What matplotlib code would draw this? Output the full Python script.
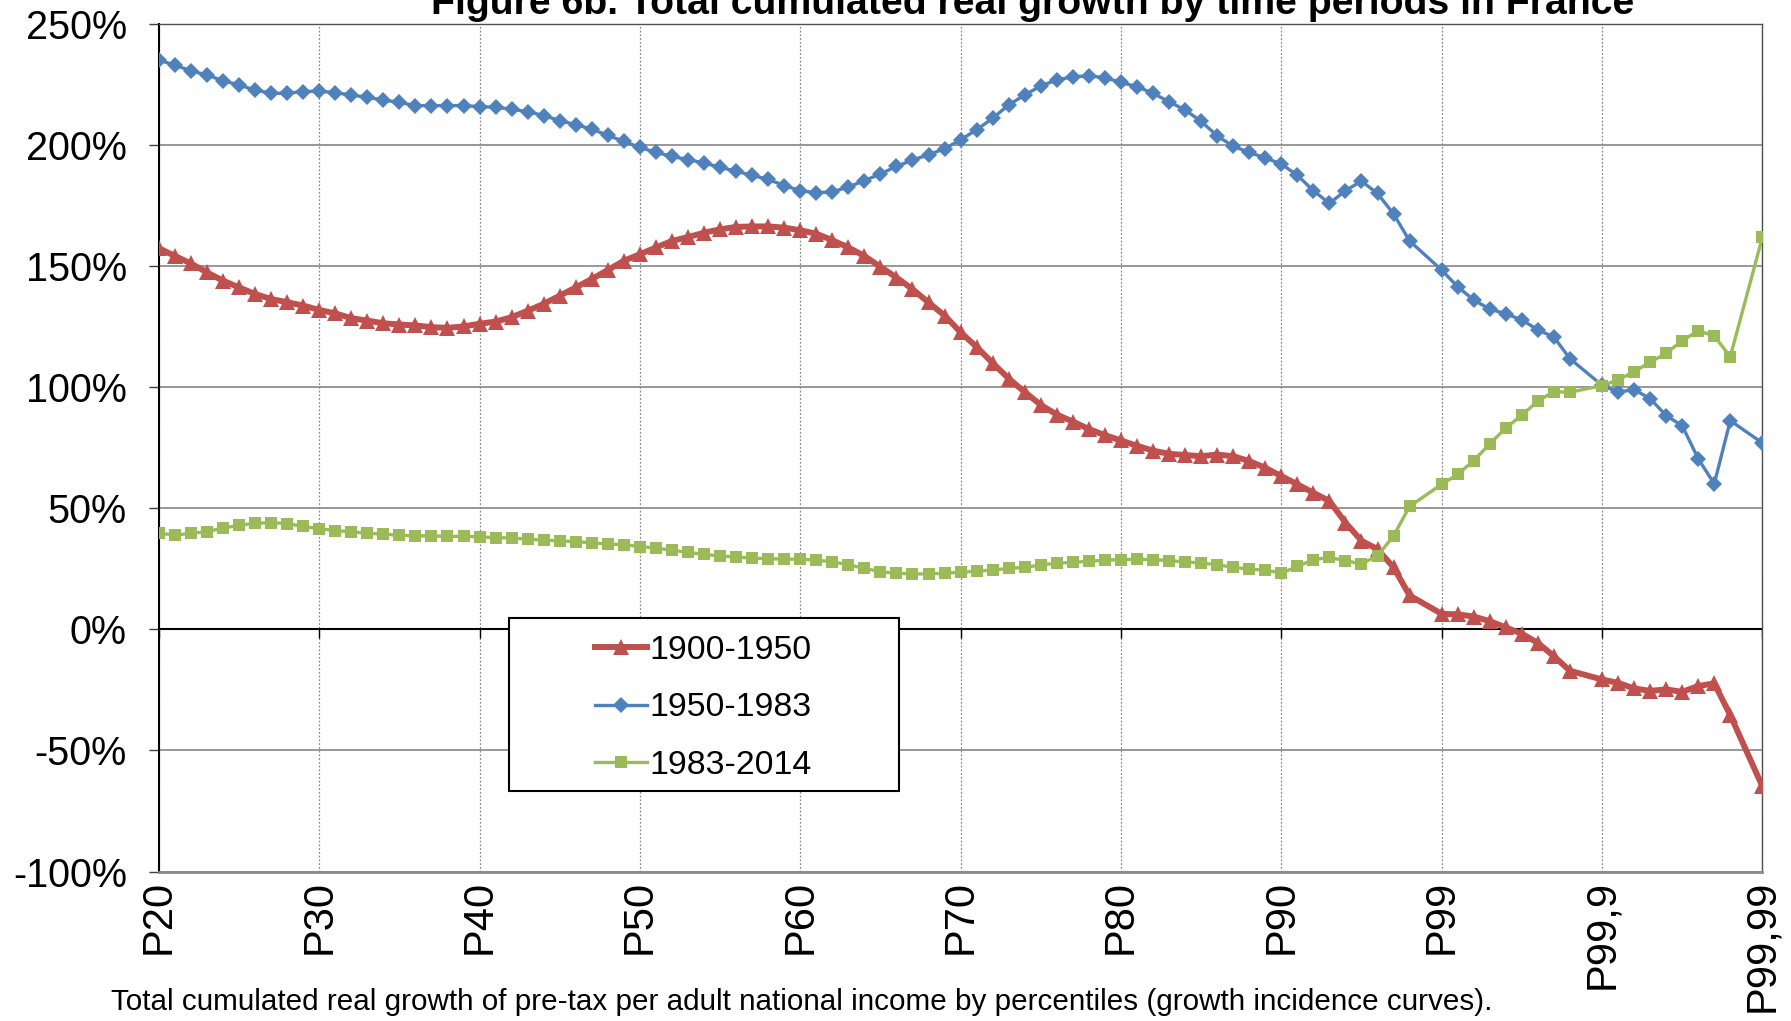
import matplotlib
matplotlib.use("Agg")
import matplotlib.pyplot as plt
import numpy as np
from matplotlib.patches import Rectangle
from matplotlib.ticker import FuncFormatter

plt.rcParams['font.family'] = ['Liberation Sans', 'DejaVu Sans']

nan = np.nan

# percentile positions 0..100 (P20 .. P99,99); 79, 89 and 99 are empty slots
tick_pos = [0, 10, 20, 30, 40, 50, 60, 70, 80, 90, 100]
tick_labels = ["P20", "P30", "P40", "P50", "P60", "P70", "P80", "P90", "P99", "P99,9", "P99,99"]

g_1900_1950 = [
    157.4, 154.2, 151.1, 147.4, 144.0, 141.2, 138.5, 136.4, 135.1, 133.7,
    131.9, 130.5, 128.5, 127.5, 126.4, 125.9, 125.5, 124.8, 124.5, 125.1,
    126.2, 127.1, 128.9, 131.6, 134.4, 137.8, 141.2, 144.7, 148.4, 152.2,
    154.9, 157.7, 160.4, 162.0, 163.8, 165.2, 166.2, 166.4, 166.4, 165.9,
    164.8, 163.4, 160.7, 157.7, 154.2, 149.7, 145.3, 140.5, 135.0, 129.6,
    122.7, 116.6, 110.0, 103.6, 98.0, 92.7, 88.7, 85.8, 82.7, 80.2,
    78.0, 75.8, 73.8, 72.5, 72.0, 71.5, 72.2, 71.5, 69.5, 66.7,
    63.3, 59.9, 56.4, 53.0, 44.1, 36.6, 33.1, 25.6, 14.0, nan,
    6.4, 6.2, 5.3, 3.4, 0.8, -1.8, -5.6, -11.1, -17.1, nan,
    -20.7, -22.1, -24.4, -25.4, -24.8, -25.8, -23.4, -22.3, -35.4, nan, -64.8]

g_1950_1983 = [
    235.1, 233.0, 230.7, 228.9, 226.6, 224.8, 222.7, 221.4, 221.4, 222.1,
    222.3, 221.6, 220.7, 219.7, 218.6, 217.6, 216.3, 216.3, 216.3, 216.3,
    215.9, 215.6, 214.8, 213.8, 212.2, 210.1, 208.4, 206.6, 204.0, 201.5,
    199.0, 197.0, 195.3, 194.0, 192.6, 190.8, 189.2, 187.5, 185.8, 183.3,
    181.2, 180.3, 180.7, 182.7, 185.3, 188.1, 191.2, 193.8, 196.0, 198.5,
    202.2, 206.3, 211.1, 216.6, 220.7, 224.4, 226.9, 228.2, 228.6, 227.8,
    225.9, 224.1, 221.4, 217.9, 214.5, 209.8, 203.8, 199.5, 197.0, 194.7,
    192.2, 187.5, 181.2, 175.9, 181.2, 185.1, 180.0, 171.6, 160.4, nan,
    148.4, 141.5, 136.0, 132.3, 130.3, 127.8, 123.7, 120.7, 111.8, nan,
    100.8, 98.0, 99.0, 95.3, 88.3, 84.1, 70.5, 60.1, 86.2, nan, 77.0]

g_1983_2014 = [
    39.7, 39.0, 39.6, 40.4, 41.8, 43.0, 43.8, 44.1, 43.7, 42.5,
    41.6, 40.8, 40.3, 39.7, 39.3, 38.9, 38.6, 38.6, 38.4, 38.4,
    38.2, 37.9, 37.7, 37.3, 36.8, 36.6, 36.2, 35.8, 35.2, 35.0,
    34.2, 33.6, 32.7, 31.8, 31.0, 30.3, 29.9, 29.4, 29.2, 29.0,
    29.0, 28.6, 27.9, 26.7, 25.2, 23.8, 23.2, 22.9, 22.9, 23.2,
    23.6, 24.0, 24.5, 25.2, 25.6, 26.6, 27.3, 27.7, 28.1, 28.6,
    28.8, 29.0, 28.8, 28.4, 27.9, 27.4, 26.7, 25.6, 24.9, 24.5,
    23.2, 26.0, 28.8, 29.7, 28.4, 27.0, 30.4, 38.6, 50.8, nan,
    59.9, 64.0, 69.7, 76.6, 83.2, 88.4, 94.3, 98.2, 97.9, nan,
    100.7, 103.0, 106.4, 110.3, 114.0, 119.2, 123.3, 121.2, 112.6, nan, 161.9]

series = [
    ("1900-1950", g_1900_1950, "#C0504D", "^", 11.5, 4.3),
    ("1950-1983", g_1950_1983, "#4F81BD", "D", 8, 2.4),
    ("1983-2014", g_1983_2014, "#9BBB59", "s", 9, 2.4),
]

fig = plt.figure(figsize=(17.91, 10.21), dpi=100)
ax = fig.add_axes([0.0887, 0.1464, 0.8953, 0.8301])

x = np.arange(len(g_1900_1950))
for label, vals, color, marker, ms, lw in series:
    y = np.array(vals, dtype=float)
    m = np.isfinite(y)
    ax.plot(x[m], y[m], color=color, marker=marker, markersize=ms, lw=lw,
            markeredgewidth=0, label=label, zorder=3)

ax.set_xlim(0, 100)
ax.set_ylim(-100, 250)
ax.set_yticks(np.arange(-100, 251, 50))
ax.yaxis.set_major_formatter(FuncFormatter(lambda v, p: f"{int(v)}%"))
ax.set_xticks(tick_pos)
ax.set_xticklabels(tick_labels, rotation=90, va="top", ha="center")

ax.tick_params(axis="y", labelsize=28.5, length=7, width=1, color="#404040",
               direction="out", pad=16)
ax.tick_params(axis="x", labelsize=30, length=0, pad=6)

ax.grid(axis="y", color="#868686", lw=1.2, ls="-", zorder=1)
ax.grid(axis="x", color="#8a8a8a", lw=0.9, ls=(0, (1.5, 1.5)), zorder=1)
ax.axhline(0, color="black", lw=1.5, zorder=2)
ax.vlines(tick_pos, -3.5, 0, color="black", lw=1, zorder=2)

for side in ["top", "right"]:
    ax.spines[side].set_color("#505050")
    ax.spines[side].set_linewidth(1)
ax.spines["left"].set_color("black")
ax.spines["left"].set_linewidth(1.5)
ax.spines["bottom"].set_color("#8a8a8a")
ax.spines["bottom"].set_linewidth(2)

# legend box
ax.add_patch(Rectangle((0.2844, 0.2248), 0.2176, 0.1699, transform=fig.transFigure,
                       facecolor="white", edgecolor="black", lw=1.5, zorder=4,
                       clip_on=False))
leg = ax.legend(loc="upper left", bbox_to_anchor=(0.3322, 0.378),
                bbox_transform=fig.transFigure, frameon=False, fontsize=24.4,
                borderpad=0, borderaxespad=0, handlelength=1.55,
                handletextpad=0.05, labelspacing=0.78)
leg.set_zorder(5)

fig.text(0.5766, 0.9866, "Figure 6b. Total cumulated real growth by time periods in France",
         ha="center", va="baseline", fontsize=28.3, fontweight="bold")
fig.text(0.0619, 0.0189,
         "Total cumulated real growth of pre-tax per adult national income by percentiles (growth incidence curves).",
         ha="left", va="center", fontsize=21.3)

fig.savefig("out.png", dpi=100)
